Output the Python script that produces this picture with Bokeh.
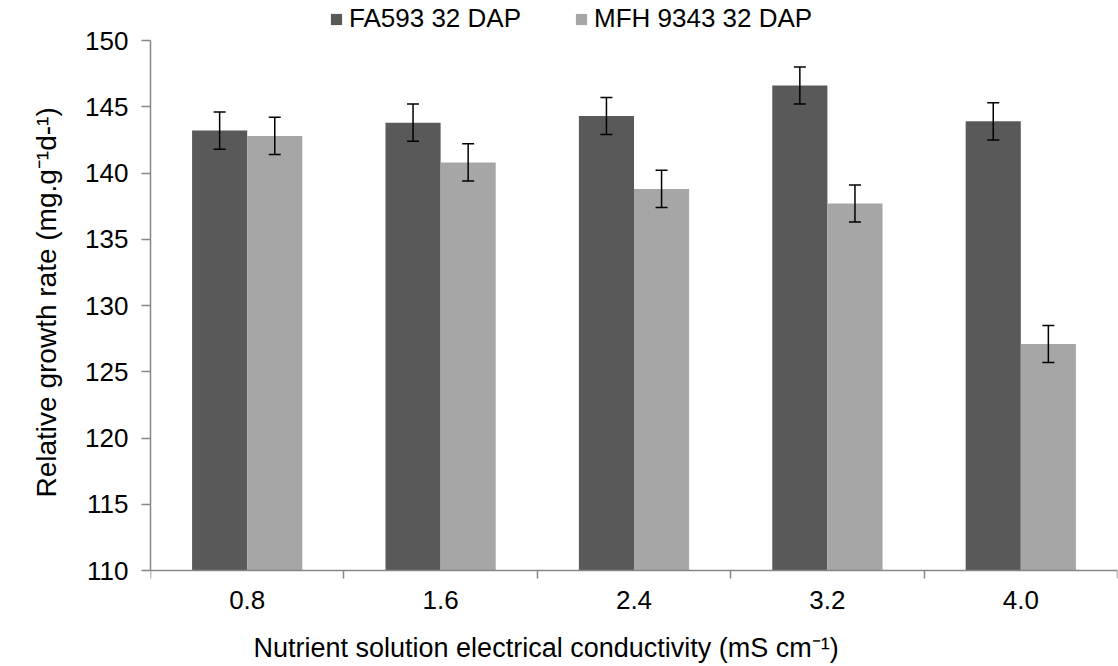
from bokeh.plotting import figure
from bokeh.models import (ColumnDataSource, Range1d, FixedTicker, Whisker, TeeHead,
                          Legend, LegendItem, Title)
from bokeh.embed import file_html
from bokeh.resources import INLINE

categories = ["0.8", "1.6", "2.4", "3.2", "4.0"]
series_names = ["FA593 32 DAP", "MFH 9343 32 DAP"]
fa593 = [143.2, 143.8, 144.3, 146.6, 143.9]
mfh9343 = [142.8, 140.8, 138.8, 137.7, 127.1]
fa593_err = [1.4, 1.4, 1.4, 1.4, 1.4]
mfh9343_err = [1.4, 1.4, 1.4, 1.4, 1.4]
y_ticks = [110, 115, 120, 125, 130, 135, 140, 145, 150]
x_title = "Nutrient solution electrical conductivity (mS cm\u207b\u00b9)"
y_title = "Relative growth rate (mg.g\u207b\u00b9d-\u00b9)"

colors = ["#595959", "#a6a6a6"]
FONT = "Liberation Sans"
bar_w = 0.285

# layout in pixels: value axis 110..150 spans 530 px, 40 px headroom above (legend),
# 60 px below the x axis line inside the frame (tick labels)
axis_px = 530.0
head_px = 40.0
foot_px = 60.0
y_lo, y_hi = y_ticks[0], y_ticks[-1]
ppu = axis_px / (y_hi - y_lo)
y_top = y_hi + head_px / ppu
y_bot = y_lo - foot_px / ppu

centers = [i + 0.5 for i in range(len(categories))]
series = [(fa593, fa593_err), (mfh9343, mfh9343_err)]

p = figure(width=1118, height=666, output_backend="svg", toolbar_location=None,
           x_range=Range1d(0, len(categories)), y_range=Range1d(y_bot, y_top),
           min_border_left=150, min_border_right=1, min_border_top=0, min_border_bottom=36)
p.outline_line_color = None
p.xgrid.visible = False
p.ygrid.visible = False
p.background_fill_color = "white"

renderers = []
for k, (vals, errs) in enumerate(series):
    off = (k - 0.5) * bar_w
    xs = [c + off for c in centers]
    src = ColumnDataSource(dict(x=xs, top=vals,
                                upper=[v + e for v, e in zip(vals, errs)],
                                lower=[v - e for v, e in zip(vals, errs)]))
    r = p.vbar(x="x", top="top", bottom=y_lo, width=bar_w, source=src,
               fill_color=colors[k], line_color=None)
    renderers.append(r)
    w = Whisker(base="x", upper="upper", lower="lower", source=src, level="overlay",
                line_color="black", line_width=1.5,
                upper_head=TeeHead(size=12, line_color="black", line_width=1.5),
                lower_head=TeeHead(size=12, line_color="black", line_width=1.5))
    p.add_layout(w)

# x axis at value 110: labels at category centres, ticks between categories
xt = FixedTicker(ticks=centers, minor_ticks=list(range(len(categories) + 1)))
p.xaxis.fixed_location = y_lo
p.xaxis.ticker = xt
p.xaxis.major_label_overrides = {c: lab for c, lab in zip(centers, categories)}
p.xaxis.major_tick_out = 0
p.xaxis.major_tick_in = 0
p.xaxis.minor_tick_out = 8
p.xaxis.minor_tick_in = 0
p.xaxis.minor_tick_line_color = "#868686"
p.xaxis.minor_tick_line_width = 1.5
p.xaxis.axis_line_color = "#868686"
p.xaxis.axis_line_width = 1.5
p.xaxis.major_label_standoff = 12

p.yaxis.ticker = FixedTicker(ticks=y_ticks)
p.yaxis.bounds = (y_lo, y_hi)
p.yaxis.major_tick_out = 9
p.yaxis.major_tick_in = 0
p.yaxis.minor_tick_line_color = None
p.yaxis.major_tick_line_color = "#868686"
p.yaxis.major_tick_line_width = 1.5
p.yaxis.axis_line_color = "#868686"
p.yaxis.axis_line_width = 1.5
p.yaxis.major_label_standoff = 13

for ax in (p.xaxis[0], p.yaxis[0]):
    ax.major_label_text_font = FONT
    ax.major_label_text_font_size = "26px"
    ax.major_label_text_color = "black"

xt_title = Title(text=x_title, align="left", offset=103, standoff=0,
                 text_font=FONT, text_font_size="27px", text_font_style="normal",
                 text_color="black")
p.add_layout(xt_title, "below")
yt_title = Title(text=y_title, align="left", offset=73 + foot_px, standoff=41,
                 text_font=FONT, text_font_size="28px", text_font_style="normal",
                 text_color="black")
p.add_layout(yt_title, "left")

legend = Legend(items=[LegendItem(label=series_names[i], renderers=[renderers[i]])
                       for i in range(len(series_names))],
                orientation="horizontal", location=(179, 536 + foot_px),
                label_text_font=FONT, label_text_font_size="26px", label_text_color="black",
                glyph_width=14, glyph_height=14, label_standoff=6, spacing=53,
                padding=0, margin=0, border_line_color=None, background_fill_alpha=0)
p.add_layout(legend, "center")

open("out.html", "w").write(file_html(p, INLINE))
